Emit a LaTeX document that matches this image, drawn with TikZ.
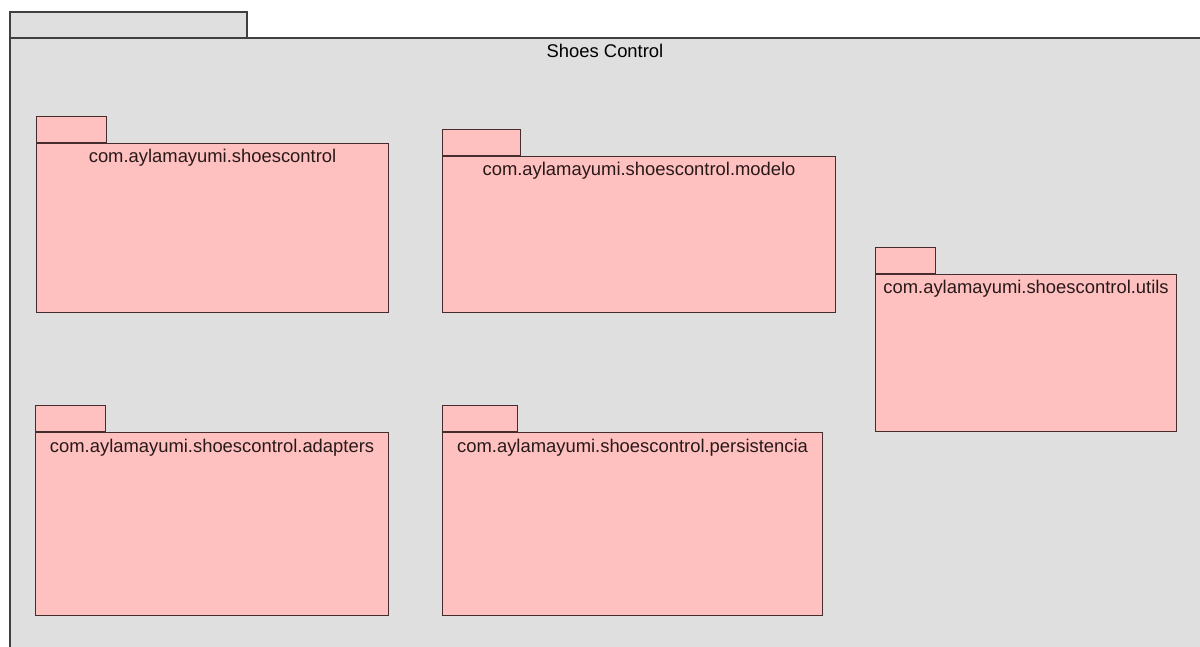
\documentclass[tikz,border=0pt]{standalone}
\usepackage{fontspec}
\setmainfont{Liberation Sans}
\begin{document}
\begin{tikzpicture}[x=1pt,y=-1pt,
  frameline/.style={draw={rgb,255:red,64;green,64;blue,64},line width=1.2pt},
  pkgline/.style={draw={rgb,255:red,70;green,45;blue,45},line width=1.1pt},
  outerfill/.style={fill={rgb,255:red,223;green,223;blue,223}},
  pkgfill/.style={fill={rgb,255:red,255;green,192;blue,192}},
  pkgbody/.style={pkgline,pkgfill,rectangle,inner sep=0pt,anchor=north west},
  pkgtab/.style={pkgline,pkgfill,rectangle,inner sep=0pt,anchor=south west,minimum height=26pt},
  pkglabel/.style={anchor=base,inner sep=0pt,font=\fontsize{18.4}{20}\selectfont,text={rgb,255:red,40;green,25;blue,25}}
]
\useasboundingbox (0,0) rectangle (1200,646);
\fill[white] (0,0) rectangle (1200,646);

% enclosing package "Shoes Control"
\fill[outerfill] (10,12) rectangle (247,38);
\fill[outerfill] (10,38) rectangle (1201,647);
\draw[frameline] (10,647) -- (10,12) -- (247,12) -- (247,38);
\draw[frameline] (10,38) -- (1201,38);
\node[pkglabel,text=black] (title) at (605,57) {Shoes Control};

% nested packages
\node[pkgbody,minimum width=352pt,minimum height=169pt] (core) at (36,143) {};
\node[pkgtab,minimum width=70pt] (coretab) at (core.north west) {};
\node[pkglabel] (corelbl) at ([yshift=-19pt]core.north) {com.aylamayumi.shoescontrol};

\node[pkgbody,minimum width=393pt,minimum height=156pt] (modelo) at (442,156) {};
\node[pkgtab,minimum width=78pt] (modelotab) at (modelo.north west) {};
\node[pkglabel] (modelolbl) at ([yshift=-19pt]modelo.north) {com.aylamayumi.shoescontrol.modelo};

\node[pkgbody,minimum width=301pt,minimum height=157pt] (utils) at (875,274) {};
\node[pkgtab,minimum width=60pt] (utilstab) at (utils.north west) {};
\node[pkglabel] (utilslbl) at ([yshift=-19pt]utils.north) {com.aylamayumi.shoescontrol.utils};

\node[pkgbody,minimum width=353pt,minimum height=183pt] (adapters) at (35,432) {};
\node[pkgtab,minimum width=70pt] (adapterstab) at (adapters.north west) {};
\node[pkglabel] (adapterslbl) at ([yshift=-20pt]adapters.north) {com.aylamayumi.shoescontrol.adapters};

\node[pkgbody,minimum width=380pt,minimum height=183pt] (persist) at (442,432) {};
\node[pkgtab,minimum width=75pt] (persisttab) at (persist.north west) {};
\node[pkglabel] (persistlbl) at ([yshift=-20pt]persist.north) {com.aylamayumi.shoescontrol.persistencia};
\end{tikzpicture}
\end{document}
